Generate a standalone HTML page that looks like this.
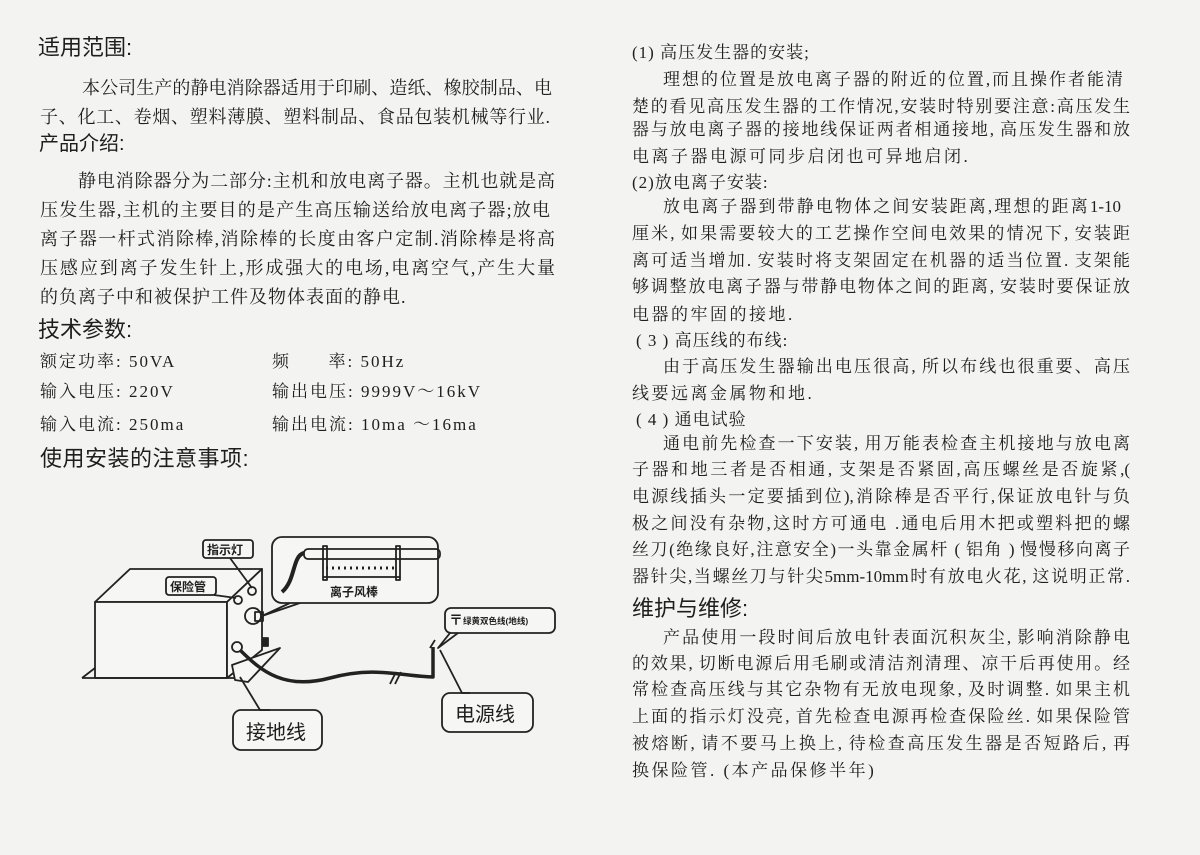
<!DOCTYPE html>
<html><head><meta charset="utf-8">
<style>
html,body{margin:0;padding:0}
body{width:1200px;height:855px;position:relative;background:#f3f3f1;overflow:hidden;color:#1e1e1e;font-family:"Liberation Serif","Noto Serif CJK SC",serif}
.l{position:absolute;font-size:17px;line-height:22px;white-space:nowrap;letter-spacing:1.5px}
.j{white-space:normal;text-align:justify;text-align-last:justify;height:22px;overflow:hidden;letter-spacing:0}
.h{position:absolute;font-family:"Liberation Sans","Noto Sans CJK SC",sans-serif;font-size:21px;line-height:26px;white-space:nowrap}
.L{font-size:18px}
</style></head><body>
<div class="h" style="left:38px;top:35px;font-size:22px">适用范围:</div>
<div class="l j L" style="left:82px;top:77px;width:470px">本公司生产的静电消除器适用于印刷、造纸、橡胶制品、电</div>
<div class="l j L" style="left:40px;top:106px;width:510px">子、化工、卷烟、塑料薄膜、塑料制品、食品包装机械等行业.</div>
<div class="h" style="left:39px;top:131px;font-size:20px">产品介绍:</div>
<div class="l j L" style="left:78px;top:170px;width:477px">静电消除器分为二部分:主机和放电离子器。主机也就是高</div>
<div class="l j L" style="left:40px;top:199px;width:510px">压发生器,主机的主要目的是产生高压输送给放电离子器;放电</div>
<div class="l j L" style="left:40px;top:228px;width:515px">离子器一杆式消除棒,消除棒的长度由客户定制.消除棒是将高</div>
<div class="l j L" style="left:40px;top:257px;width:515px">压感应到离子发生针上,形成强大的电场,电离空气,产生大量</div>
<div class="l L" style="left:40px;top:286px;letter-spacing:1px">的负离子中和被保护工件及物体表面的静电.</div>
<div class="h" style="left:38px;top:317px;font-size:22px">技术参数:</div>
<div class="l" style="left:40px;top:351px;letter-spacing:2px">额定功率: 50VA</div>
<div class="l" style="left:272px;top:351px;letter-spacing:2px">频&nbsp;&nbsp;&nbsp;&nbsp;&nbsp;&nbsp;率: 50Hz</div>
<div class="l" style="left:40px;top:381px;letter-spacing:2px">输入电压: 220V</div>
<div class="l" style="left:272px;top:381px;letter-spacing:2px">输出电压: 9999V～16kV</div>
<div class="l" style="left:40px;top:414px;letter-spacing:2px">输入电流: 250ma</div>
<div class="l" style="left:272px;top:414px;letter-spacing:2px">输出电流: 10ma ～16ma</div>
<div class="h" style="left:40px;top:446px;font-size:22px;letter-spacing:0.5px">使用安装的注意事项:</div>

<svg style="position:absolute;left:0;top:0" width="600" height="855" font-family="Liberation Sans, Noto Sans CJK SC, sans-serif">
<g fill="none" stroke="#222" stroke-width="1.8" stroke-linejoin="round">
 <polygon points="95,602 130,569 262,569 227,602" fill="#f6f6f4"/>
 <rect x="95" y="602" width="132" height="76" fill="#f6f6f4"/>
 <polygon points="227,602 262,569 262,650 227,678" fill="#f6f6f4"/>
 <polyline points="82,678 95,668"/>
 <line x1="82" y1="678" x2="240" y2="678"/>
 <polygon points="232,665 280,648 248,682 235,680" fill="#f6f6f4"/>
 <circle cx="238" cy="600" r="4"/>
 <circle cx="252" cy="591" r="4"/>
 <circle cx="253" cy="616" r="8"/>
 <rect x="255" y="612" width="8" height="9"/>
 <circle cx="237" cy="647" r="5"/>
 <rect x="263" y="638" width="5" height="8" fill="#222"/>
 <polyline points="230,558 252,588"/>
 <polyline points="214,595 236,598"/>
 <polyline points="290,603 262,616 300,603"/>
 <rect x="272" y="537" width="166" height="66" rx="10" fill="#f6f6f4"/>
 <rect x="304" y="549" width="136" height="10" rx="4"/>
 <rect x="323" y="546" width="4" height="34"/>
 <rect x="396" y="546" width="4" height="34"/>
 <line x1="323" y1="577" x2="400" y2="577"/>
 <path d="M326 568 L396 568" stroke-dasharray="2 4" stroke-width="3"/>
 <path d="M304 553 C292 556 296 580 282 592" stroke-width="4"/>
 <rect x="203" y="540" width="50" height="18" rx="3" fill="#f6f6f4"/>
 <rect x="166" y="577" width="50" height="18" rx="3" fill="#f6f6f4"/>
 <path d="M240 650 C262 672 285 690 330 678 S400 676 433 677 L433 647" stroke-width="3.5"/>
 <line x1="390" y1="684" x2="396" y2="672"/><line x1="395" y1="684" x2="401" y2="672"/>
 <line x1="430" y1="648" x2="435" y2="640"/>
 <rect x="445" y="608" width="110" height="25" rx="6" fill="#f6f6f4"/>
 <polyline points="450,633 438,648 458,633"/>
 <rect x="442" y="693" width="91" height="39" rx="8" fill="#f6f6f4"/>
 <polyline points="440,650 462,693 470,693"/>
 <rect x="233" y="710" width="89" height="40" rx="8" fill="#f6f6f4"/>
 <polyline points="240,677 260,710 270,710"/>
</g>
<g fill="#1e1e1e">
 <text x="207" y="554" font-size="12" font-weight="bold">指示灯</text>
 <text x="170" y="591" font-size="12" font-weight="bold">保险管</text>
 <text x="330" y="596" font-size="12" font-weight="bold">离子风棒</text>
 <text x="449" y="625" font-size="14" font-weight="bold">〒</text>
 <text x="463" y="624" font-size="8.5" font-weight="bold">绿黄双色线(地线)</text>
 <text x="455" y="721" font-size="20">电源线</text>
 <text x="246" y="739" font-size="20">接地线</text>
</g>
</svg>

<div class="l" style="left:632px;top:42px;letter-spacing:1px">(1) 高压发生器的安装;</div>
<div class="l j" style="left:663px;top:69px;width:460px">理想的位置是放电离子器的附近的位置,而且操作者能清</div>
<div class="l j" style="left:632px;top:96px;width:498px">楚的看见高压发生器的工作情况,安装时特别要注意:高压发生</div>
<div class="l j" style="left:632px;top:119px;width:498px">器与放电离子器的接地线保证两者相通接地, 高压发生器和放</div>
<div class="l" style="left:632px;top:146px;letter-spacing:2.5px">电离子器电源可同步启闭也可异地启闭.</div>
<div class="l" style="left:632px;top:172px;letter-spacing:1px">(2)放电离子安装:</div>
<div class="l j" style="left:663px;top:196px;width:458px">放电离子器到带静电物体之间安装距离,理想的距离1-10</div>
<div class="l j" style="left:632px;top:223px;width:498px">厘米, 如果需要较大的工艺操作空间电效果的情况下, 安装距</div>
<div class="l j" style="left:632px;top:250px;width:498px">离可适当增加. 安装时将支架固定在机器的适当位置. 支架能</div>
<div class="l j" style="left:632px;top:276px;width:498px">够调整放电离子器与带静电物体之间的距离, 安装时要保证放</div>
<div class="l" style="left:632px;top:304px;letter-spacing:2.5px">电器的牢固的接地.</div>
<div class="l" style="left:636px;top:330px;letter-spacing:1px">( 3 ) 高压线的布线:</div>
<div class="l j" style="left:663px;top:356px;width:467px">由于高压发生器输出电压很高, 所以布线也很重要、高压</div>
<div class="l" style="left:632px;top:383px;letter-spacing:2.5px">线要远离金属物和地.</div>
<div class="l" style="left:636px;top:409px;letter-spacing:1px">( 4 ) 通电试验</div>
<div class="l j" style="left:663px;top:433px;width:467px">通电前先检查一下安装, 用万能表检查主机接地与放电离</div>
<div class="l j" style="left:632px;top:459px;width:498px">子器和地三者是否相通, 支架是否紧固,高压螺丝是否旋紧,(</div>
<div class="l j" style="left:632px;top:486px;width:498px">电源线插头一定要插到位),消除棒是否平行,保证放电针与负</div>
<div class="l j" style="left:632px;top:513px;width:498px">极之间没有杂物,这时方可通电 .通电后用木把或塑料把的螺</div>
<div class="l j" style="left:632px;top:539px;width:498px">丝刀(绝缘良好,注意安全)一头靠金属杆 ( 铝角 ) 慢慢移向离子</div>
<div class="l j" style="left:632px;top:566px;width:498px">器针尖,当螺丝刀与针尖5mm-10mm时有放电火花, 这说明正常.</div>
<div class="h" style="left:632px;top:596px;font-size:22px">维护与维修:</div>
<div class="l j" style="left:663px;top:627px;width:467px">产品使用一段时间后放电针表面沉积灰尘, 影响消除静电</div>
<div class="l j" style="left:632px;top:653px;width:498px">的效果, 切断电源后用毛刷或清洁剂清理、凉干后再使用。经</div>
<div class="l j" style="left:632px;top:679px;width:498px">常检查高压线与其它杂物有无放电现象, 及时调整. 如果主机</div>
<div class="l j" style="left:632px;top:706px;width:498px">上面的指示灯没亮, 首先检查电源再检查保险丝. 如果保险管</div>
<div class="l j" style="left:632px;top:733px;width:498px">被熔断, 请不要马上换上, 待检查高压发生器是否短路后, 再</div>
<div class="l" style="left:632px;top:760px;letter-spacing:2.5px">换保险管. (本产品保修半年)</div>
</body></html>
